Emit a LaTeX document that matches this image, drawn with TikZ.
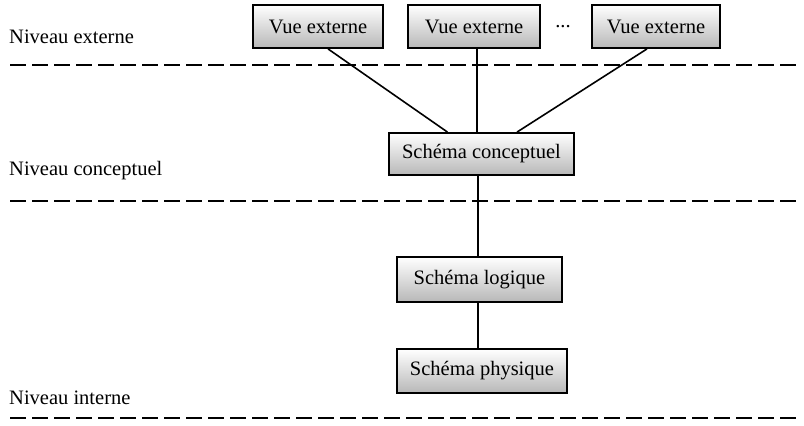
\documentclass[tikz,border=0pt]{standalone}
\usepackage{fontspec}
\setmainfont{Liberation Serif}
\begin{document}
\begin{tikzpicture}[x=1pt,y=-1pt,
  box/.style={draw=black,line width=1.8pt,top color=white,bottom color=black!28,
    inner sep=0pt,font=\fontsize{20.5}{24}\selectfont,text=black},
  lvl/.style={anchor=west,inner sep=0pt,font=\fontsize{20.5}{24}\selectfont},
  sep/.style={line width=2.6pt,dash pattern=on 16pt off 6pt},
  conn/.style={line width=1.6pt}]
\useasboundingbox (0,0) rectangle (804,426);
\node[box,minimum width=130pt,minimum height=43pt] (ve1) at (318,26.5) {Vue externe};
\node[box,minimum width=132pt,minimum height=43pt] (ve2) at (474,26.5) {Vue externe};
\node[box,minimum width=128pt,minimum height=43pt] (ve3) at (656,26.5) {Vue externe};
\node[inner sep=0pt,font=\fontsize{20.5}{24}\selectfont] (dots) at (563,27) {...};
\node[box,minimum width=185pt,minimum height=42pt] (sc) at (481.5,154) {Schéma conceptuel};
\node[box,minimum width=165pt,minimum height=45pt] (sl) at (479.5,279.5) {Schéma logique};
\node[box,minimum width=170pt,minimum height=44pt] (sp) at (482,371) {Schéma physique};
\node[lvl] (l1) at (9,37) {Niveau externe};
\node[lvl] (l2) at (9,171) {Niveau conceptuel};
\node[lvl] (l3) at (9,398) {Niveau interne};
\coordinate (a1) at (10,65); \coordinate (b1) at (798,65);
\coordinate (a2) at (10,201); \coordinate (b2) at (798,201);
\coordinate (a3) at (10,418); \coordinate (b3) at (798,418);
\draw[sep] (a1) -- (b1);
\draw[sep] (a2) -- (b2);
\draw[sep] (a3) -- (b3);
\draw[conn] ([xshift=10pt]ve1.south) -- ([xshift=-34pt]sc.north);
\draw[conn] ([xshift=3pt]ve2.south) -- ([xshift=-4.5pt]sc.north);
\draw[conn] ([xshift=-9pt]ve3.south) -- ([xshift=35.5pt]sc.north);
\draw[conn] ([xshift=-3.5pt]sc.south) -- ([xshift=-1.5pt]sl.north);
\draw[conn] ([xshift=-1.5pt]sl.south) -- ([xshift=-4pt]sp.north);
\end{tikzpicture}
\end{document}
